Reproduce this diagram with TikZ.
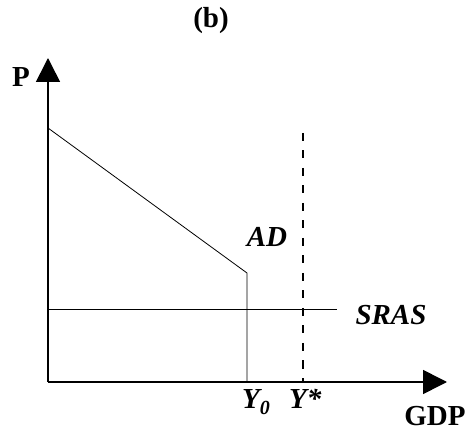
\documentclass[tikz,border=0pt]{standalone}
\usepackage{fontspec}
\setmainfont{Liberation Serif}
\usetikzlibrary{arrows.meta}
\begin{document}
\begin{tikzpicture}[x=1pt,y=-1pt,
  axis/.style={line width=1.6pt,-{Triangle[length=24pt,width=24pt]}},
  curve/.style={line width=0.8pt},
  dashv/.style={line width=1.8pt,dash pattern=on 8pt off 9.5pt},
  lbl/.style={font=\fontsize{29}{31}\selectfont\bfseries\itshape,inner sep=0pt},
  lblup/.style={font=\fontsize{29}{31}\selectfont\bfseries,inner sep=0pt}]
\useasboundingbox (0,0) rectangle (472,433);
\coordinate (O) at (48,382);
\coordinate (xend) at (447,382);
\coordinate (yend) at (48,58);
\coordinate (a1) at (48,128);
\coordinate (a2) at (247,273);
\coordinate (a3) at (247,382);
\coordinate (s1) at (48,309);
\coordinate (s2) at (337,309);
\coordinate (d1) at (303,133);
\coordinate (d2) at (303,382);
\draw[curve] (a1) -- (a2) -- (a3);
\draw[curve] (s1) -- (s2);
\draw[dashv] (d1) -- (d2);
\draw[axis] (O) -- (yend);
\draw[axis] (O) -- (xend);
\node[lblup] (title) at (211,21) {(b)};
\node[lblup] (P) at (21,77) {P};
\node[lblup] (GDP) at (435,416) {GDP};
\node[lbl] (AD) at (267,237) {AD};
\node[lbl] (SRAS) at (391,315) {SRAS};
\node[lbl,anchor=base west] (Y0) at (242,408) {Y\raisebox{-6pt}{\fontsize{20}{20}\selectfont 0}};
\node[lbl,anchor=base west] (Ys) at (289,408) {Y*};
\end{tikzpicture}
\end{document}
